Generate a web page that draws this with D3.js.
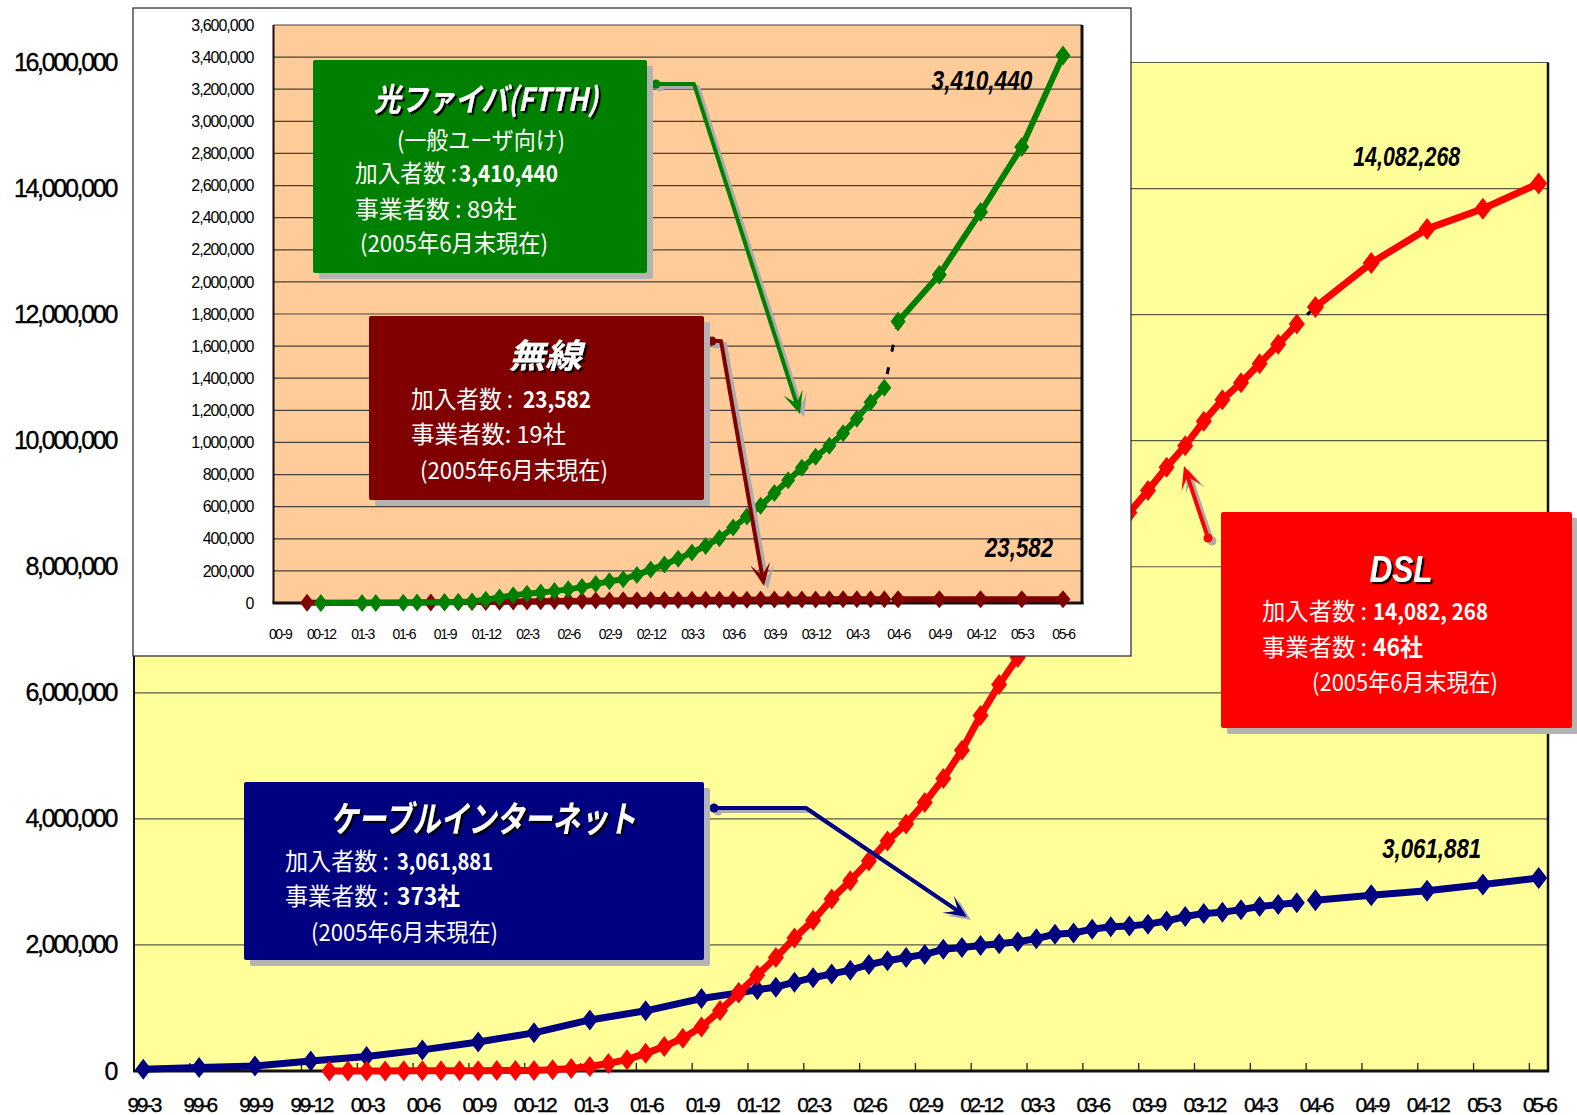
<!DOCTYPE html>
<html>
<head>
<meta charset="utf-8">
<script src="https://cdn.jsdelivr.net/npm/d3@7"></script>
<style>
  body { margin: 0; background: #fff; }
  svg { display: block; }
</style>
</head>
<body>
<svg id="chart" width="1577" height="1115">
  <defs>
    <filter id="titleShadow" x="-10%" y="-20%" width="130%" height="150%">
      <feDropShadow dx="2.2" dy="2.2" stdDeviation="0.3" flood-color="#000" flood-opacity="1"/>
    </filter>
  </defs>
</svg>
<script>
// ---------- data ----------
const mainXLabels = ["99-3","99-6","99-9","99-12","00-3","00-6","00-9","00-12","01-3","01-6","01-9","01-12",
  "02-3","02-6","02-9","02-12","03-3","03-6","03-9","03-12","04-3","04-6","04-9","04-12","05-3","05-6"];
const insetXLabels = ["00-9","00-12","01-3","01-6","01-9","01-12","02-3","02-6","02-9","02-12",
  "03-3","03-6","03-9","03-12","04-3","04-6","04-9","04-12","05-3","05-6"];
const mainYTicks = [0, 2000000, 4000000, 6000000, 8000000, 10000000, 12000000, 14000000, 16000000];
const insetYTicks = [0, 200000, 400000, 600000, 800000, 1000000, 1200000, 1400000, 1600000, 1800000,
  2000000, 2200000, 2400000, 2600000, 2800000, 3000000, 3200000, 3400000, 3600000];

// quarterly survey points from June 2004 on (drawn as a separate segment)
const surveyPeriods = ["04-6","04-9","04-12","05-3","05-6"];

// cable internet
const cablePeriods = ["99-3","99-6","99-9","99-12","00-3","00-6","00-9","00-12","01-3","01-6","01-9",
  "01-11","01-12","02-1","02-2","02-3","02-4","02-5","02-6","02-7","02-8","02-9","02-10","02-11","02-12",
  "03-1","03-2","03-3","03-4","03-5","03-6","03-7","03-8","03-9","03-10","03-11","03-12",
  "04-1","04-2","04-3","04-4","04-5"];
const cableValues = [27000,54000,80000,160000,230000,335000,460000,605000,810000,955000,1150000,
  1240000,1290000,1330000,1410000,1480000,1540000,1600000,1690000,1750000,1800000,1850000,1930000,1960000,1990000,
  2020000,2050000,2100000,2170000,2190000,2250000,2290000,2300000,2330000,2380000,2450000,2500000,
  2520000,2560000,2610000,2640000,2670000];
const cableSurveyValues = [2710000,2790000,2860000,2960000,3061881];

// DSL
const dslPeriods = ["00-1","00-2","00-3","00-4","00-5","00-6","00-7","00-8","00-9","00-10","00-11","00-12",
  "01-1","01-2","01-3","01-4","01-5","01-6","01-7","01-8","01-9","01-10","01-11","01-12",
  "02-1","02-2","02-3","02-4","02-5","02-6","02-7","02-8","02-9","02-10","02-11","02-12",
  "03-1","03-2","03-3","03-4","03-5","03-6","03-7","03-8","03-9","03-10","03-11","03-12",
  "04-1","04-2","04-3","04-4","04-5"];
const dslValues = [200,300,1000,1500,2000,2500,3000,4000,5000,6000,7500,9723,
  20000,40000,70655,120000,180000,280000,390000,520000,700000,960000,1240000,1520000,
  1800000,2110000,2390000,2730000,3020000,3330000,3650000,3920000,4260000,4640000,5090000,5640000,
  6130000,6560000,7020000,7400000,7750000,8080000,8450000,8860000,9210000,9580000,9920000,10310000,
  10650000,10920000,11220000,11530000,11850000];
const dslSurveyValues = [12120000,12820000,13360000,13680000,14082268];

// FTTH
const ftthPeriods = ["00-12","01-3","01-4","01-6","01-7","01-9","01-10","01-11","01-12",
  "02-1","02-2","02-3","02-4","02-5","02-6","02-7","02-8","02-9","02-10","02-11","02-12",
  "03-1","03-2","03-3","03-4","03-5","03-6","03-7","03-8","03-9","03-10","03-11","03-12",
  "04-1","04-2","04-3","04-4","04-5"];
const ftthValues = [100,300,600,1500,2500,4500,7000,9500,20000,
  35000,48000,57000,66000,74000,85000,99000,118000,135000,148000,175000,208000,
  240000,275000,315000,355000,404000,470000,539000,606000,685000,764000,843000,911000,
  979000,1058000,1148000,1250000,1340000];
const ftthSurveyValues = [1753000,2045000,2435000,2840000,3410440];

// fixed wireless
const wirelessPeriods = ["00-11","01-8","01-9","01-10","01-11","01-12",
  "02-1","02-2","02-3","02-4","02-5","02-6","02-7","02-8","02-9","02-10","02-11","02-12",
  "03-1","03-2","03-3","03-4","03-5","03-6","03-7","03-8","03-9","03-10","03-11","03-12",
  "04-1","04-2","04-3","04-4","04-5"];
const wirelessValues = [1000,3000,4000,5000,6000,7000,
  8000,9000,10000,11000,12000,13000,14000,15000,16000,17000,17500,18000,
  18500,19000,19500,20000,20500,21000,21000,21500,22000,22000,22500,22500,
  23000,23000,23000,23500,23500];
const wirelessSurveyValues = [23600,23800,23700,23600,23582];

// ---------- helpers ----------
// "yy-m" -> months since March 1999
function mi(p) {
  const [yy, mm] = p.split("-").map(Number);
  const year = yy >= 90 ? 1900 + yy : 2000 + yy;
  return (year - 1999) * 12 + mm - 3;
}
const zip = (ps, vs) => ps.map((p, i) => ({ p, v: vs[i] }));
const fmt = d3.format(",");
const LATIN = "'Liberation Sans', Arial, sans-serif";
const CJK = "'Noto Sans CJK JP', 'Noto Sans', sans-serif";
const BODY_SIZE = 23.5;

const svg = d3.select("#chart");

function drawSeries(g, pts, xs, ys, color, width, hw, hh) {
  const line = d3.line().x(d => xs(mi(d.p))).y(d => ys(d.v));
  g.append("path").datum(pts).attr("d", line)
    .attr("fill", "none").attr("stroke", color).attr("stroke-width", width)
    .attr("stroke-linejoin", "round");
  g.selectAll(null).data(pts).join("path")
    .attr("d", `M0,${-hh}L${hw},0L0,${hh}L${-hw},0Z`)
    .attr("transform", d => `translate(${xs(mi(d.p))},${ys(d.v)})`)
    .attr("fill", color);
}
function bridge(g, a, b, xs, ys) {
  g.append("line")
    .attr("x1", xs(mi(a.p))).attr("y1", ys(a.v))
    .attr("x2", xs(mi(b.p))).attr("y2", ys(b.v))
    .attr("stroke", "#000").attr("stroke-width", 3).attr("stroke-dasharray", "7,16")
    .attr("stroke-dashoffset", -14);
}

// ---------- main chart ----------
const M = { left: 134, right: 1548, top: 62.5, bottom: 1071 };
const x = d3.scaleLinear().domain([-0.5, 75.5]).range([M.left, M.right]);
const y = d3.scaleLinear().domain([0, 16000000]).range([M.bottom, M.top]);

const main = svg.append("g");
main.append("rect").attr("x", M.left).attr("y", M.top)
  .attr("width", M.right - M.left).attr("height", M.bottom - M.top).attr("fill", "#FFFF99");
main.selectAll(null).data(mainYTicks.slice(1)).join("line")
  .attr("x1", M.left).attr("x2", M.right).attr("y1", d => y(d)).attr("y2", d => y(d))
  .attr("stroke", "#5a5a48").attr("stroke-width", 1.2);
main.selectAll(null).data(mainXLabels).join("line")
  .attr("x1", d => x(mi(d) - 0.5)).attr("x2", d => x(mi(d) - 0.5))
  .attr("y1", M.bottom).attr("y2", M.bottom - 8).attr("stroke", "#222").attr("stroke-width", 1.3);
main.append("line").attr("x1", M.left).attr("x2", M.left).attr("y1", M.top).attr("y2", M.bottom)
  .attr("stroke", "#111").attr("stroke-width", 2);
main.append("line").attr("x1", M.right).attr("x2", M.right).attr("y1", M.top).attr("y2", M.bottom + 1)
  .attr("stroke", "#111").attr("stroke-width", 2.5);
main.append("line").attr("x1", M.left - 1).attr("x2", M.right + 1).attr("y1", M.bottom).attr("y2", M.bottom)
  .attr("stroke", "#111").attr("stroke-width", 3);

// axes
const yAxis = main.append("g").attr("transform", `translate(${M.left},0)`)
  .call(d3.axisLeft(y).tickValues(mainYTicks).tickFormat(fmt).tickSize(0).tickPadding(18));
yAxis.select(".domain").remove();
yAxis.attr("font-size", 25).attr("font-family", LATIN);
yAxis.selectAll("text").attr("fill", "#000").style("letter-spacing", "-2.3px")
  .attr("stroke", "#000").attr("stroke-width", 0.35);

const xAxis = main.append("g").attr("transform", `translate(0,${M.bottom})`)
  .call(d3.axisBottom(x).tickValues(mainXLabels.map(mi)).tickFormat((d, i) => mainXLabels[i])
    .tickSize(0).tickPadding(26));
xAxis.select(".domain").remove();
xAxis.attr("font-size", 21).attr("font-family", LATIN);
xAxis.selectAll("text").attr("fill", "#000").style("letter-spacing", "-2.4px")
  .attr("stroke", "#000").attr("stroke-width", 0.35);

// series
const cablePts = zip(cablePeriods, cableValues);
const cableSurvey = zip(surveyPeriods, cableSurveyValues);
const dslPts = zip(dslPeriods, dslValues);
const dslSurvey = zip(surveyPeriods, dslSurveyValues);

const lines = main.append("g");
bridge(lines, cablePts[cablePts.length - 1], cableSurvey[0], x, y);
drawSeries(lines, cablePts, x, y, "#000080", 7, 8, 10.5);
drawSeries(lines, cableSurvey, x, y, "#000080", 7, 8.5, 11);
bridge(lines, dslPts[dslPts.length - 1], dslSurvey[0], x, y);
drawSeries(lines, dslPts, x, y, "#FF0000", 7, 8, 10.5);
drawSeries(lines, dslSurvey, x, y, "#FF0000", 7, 8.5, 11);

function valueLabel(g, px, py, text, len, size) {
  g.append("text").attr("x", px).attr("y", py).attr("text-anchor", "middle")
    .attr("font-family", LATIN).attr("font-weight", "bold").attr("font-style", "italic")
    .attr("font-size", size).attr("fill", "#000")
    .attr("textLength", len).attr("lengthAdjust", "spacingAndGlyphs").text(text);
}
const dslLast = dslSurvey[dslSurvey.length - 1];
const cableLast = cableSurvey[cableSurvey.length - 1];
valueLabel(main, x(mi(dslLast.p)) - 132, y(dslLast.v) - 17, fmt(dslLast.v), 107, 28);
valueLabel(main, x(mi(cableLast.p)) - 107, y(cableLast.v) - 20, fmt(cableLast.v), 99, 28);

// ---------- callouts ----------
function connector(g, pts, color) {
  const tip = pts[pts.length - 1], prev = pts[pts.length - 2];
  const ang = Math.atan2(tip[1] - prev[1], tip[0] - prev[0]);
  const L = 25, spread = 0.42, notch = 11;
  const head = (ox, oy) => {
    const tx = tip[0] + ox, ty = tip[1] + oy;
    const p1 = [tx - L * Math.cos(ang - spread), ty - L * Math.sin(ang - spread)];
    const p2 = [tx - notch * Math.cos(ang), ty - notch * Math.sin(ang)];
    const p3 = [tx - L * Math.cos(ang + spread), ty - L * Math.sin(ang + spread)];
    return `M${tx},${ty}L${p1}L${p2}L${p3}Z`;
  };
  const shaft = (ox, oy) => {
    const end = [tip[0] - notch * Math.cos(ang), tip[1] - notch * Math.sin(ang)];
    return d3.line()(pts.slice(0, -1).map(p => [p[0] + ox, p[1] + oy]).concat([[end[0] + ox, end[1] + oy]]));
  };
  const sh = [4, 3];
  g.append("path").attr("d", shaft(...sh)).attr("fill", "none").attr("stroke", "#ababab").attr("stroke-width", 4);
  g.append("path").attr("d", head(...sh)).attr("fill", "#ababab");
  g.append("circle").attr("cx", pts[0][0] + sh[0]).attr("cy", pts[0][1] + sh[1]).attr("r", 4.5).attr("fill", "#ababab");
  g.append("path").attr("d", shaft(0, 0)).attr("fill", "none").attr("stroke", color).attr("stroke-width", 4)
    .attr("stroke-linejoin", "round");
  g.append("path").attr("d", head(0, 0)).attr("fill", color);
  g.append("circle").attr("cx", pts[0][0]).attr("cy", pts[0][1]).attr("r", 4.5).attr("fill", color);
}

// each row is a list of runs: [text, x, width, bold]
function callout(g, box, color, title, rows) {
  g.append("rect").attr("x", box.x + 6).attr("y", box.y + 6).attr("width", box.w).attr("height", box.h)
    .attr("rx", 2).attr("fill", "#b3b3b3");
  g.append("rect").attr("x", box.x).attr("y", box.y).attr("width", box.w).attr("height", box.h)
    .attr("rx", 2).attr("fill", color);
  g.append("text").attr("x", title.x).attr("y", title.y).attr("text-anchor", "middle")
    .attr("font-family", title.latin ? LATIN : CJK).attr("font-weight", "bold").attr("font-style", "italic")
    .attr("font-size", title.size).attr("fill", "#fff").attr("filter", "url(#titleShadow)")
    .attr("textLength", title.len).attr("lengthAdjust", "spacingAndGlyphs").text(title.text);
  rows.forEach(r => {
    r.runs.forEach(([s, rx, len, bold]) => {
      g.append("text").attr("x", rx).attr("y", r.y).attr("font-family", CJK)
        .attr("font-size", BODY_SIZE).attr("fill", "#fff").attr("font-weight", bold ? "bold" : "normal")
        .attr("textLength", len).attr("lengthAdjust", "spacingAndGlyphs").text(s);
    });
  });
}

const notes = svg.append("g");
connector(notes, [[714, 808], [806, 808], [967, 917]], "#000080");
callout(notes, { x: 244, y: 782, w: 460, h: 178 }, "#000080",
  { text: "ケーブルインターネット", x: 483, y: 832, size: 36, len: 306 },
  [ { y: 870, runs: [["加入者数 :", 285, 104, false], ["3,061,881", 397, 96, true]] },
    { y: 905, runs: [["事業者数 :", 285, 104, false], ["373社", 397, 63, true]] },
    { y: 941, runs: [["(2005年6月末現在)", 311, 187, false]] } ]);

connector(notes, [[1208, 538], [1184, 466]], "#FF0000");
callout(notes, { x: 1221, y: 512, w: 351, h: 216 }, "#FF0000",
  { text: "DSL", x: 1401, y: 582, size: 36, len: 63, latin: true },
  [ { y: 620, runs: [["加入者数 :", 1262, 105, false], ["14,082, 268", 1373, 115, true]] },
    { y: 656, runs: [["事業者数 :", 1262, 105, false], ["46社", 1373, 50, true]] },
    { y: 691, runs: [["(2005年6月末現在)", 1312, 186, false]] } ]);

// ---------- inset chart ----------
const I = { left: 273.5, right: 1082, top: 25, bottom: 603 };
const ix = d3.scaleLinear().domain([mi("00-9"), mi("05-6")]).range([279.6, 1063]);
const iy = d3.scaleLinear().domain([0, 3600000]).range([I.bottom, I.top]);

const inset = svg.append("g");
inset.append("rect").attr("x", 133).attr("y", 8).attr("width", 998).attr("height", 648)
  .attr("fill", "#fff").attr("stroke", "#222").attr("stroke-width", 1.2);
inset.append("rect").attr("x", I.left).attr("y", I.top)
  .attr("width", I.right - I.left).attr("height", I.bottom - I.top).attr("fill", "#FFCC99");
inset.selectAll(null).data(insetYTicks.slice(1)).join("line")
  .attr("x1", I.left).attr("x2", I.right).attr("y1", d => iy(d)).attr("y2", d => iy(d))
  .attr("stroke", "#4a4038").attr("stroke-width", 1.2);
inset.append("line").attr("x1", I.left).attr("x2", I.left).attr("y1", I.top).attr("y2", I.bottom)
  .attr("stroke", "#111").attr("stroke-width", 2);
inset.append("line").attr("x1", I.right).attr("x2", I.right).attr("y1", I.top).attr("y2", I.bottom + 1)
  .attr("stroke", "#111").attr("stroke-width", 3);
inset.append("line").attr("x1", I.left - 1).attr("x2", I.right + 1.5).attr("y1", I.bottom).attr("y2", I.bottom)
  .attr("stroke", "#111").attr("stroke-width", 3);

const iyAxis = inset.append("g").attr("transform", `translate(${I.left},0)`)
  .call(d3.axisLeft(iy).tickValues(insetYTicks).tickFormat(fmt).tickSize(0).tickPadding(20));
iyAxis.select(".domain").remove();
iyAxis.attr("font-size", 16).attr("font-family", LATIN);
iyAxis.selectAll("text").attr("fill", "#000").style("letter-spacing", "-1px");

const ixAxis = inset.append("g").attr("transform", `translate(0,${I.bottom})`)
  .call(d3.axisBottom(ix).tickValues(insetXLabels.map(mi)).tickFormat((d, i) => insetXLabels[i])
    .tickSize(0).tickPadding(26));
ixAxis.select(".domain").remove();
ixAxis.attr("font-size", 14).attr("font-family", LATIN);
ixAxis.selectAll("text").attr("fill", "#000").style("letter-spacing", "-1.4px");

const wirelessPts = zip(wirelessPeriods, wirelessValues);
const wirelessSurvey = zip(surveyPeriods, wirelessSurveyValues);
const ftthPts = zip(ftthPeriods, ftthValues);
const ftthSurvey = zip(surveyPeriods, ftthSurveyValues);

const ilines = inset.append("g");
drawSeries(ilines, wirelessPts, ix, iy, "#800000", 6, 7, 9);
drawSeries(ilines, wirelessSurvey, ix, iy, "#800000", 6, 7.5, 9);
bridge(ilines, ftthPts[ftthPts.length - 1], ftthSurvey[0], ix, iy);
drawSeries(ilines, ftthPts, ix, iy, "#008000", 6, 7, 9);
drawSeries(ilines, ftthSurvey, ix, iy, "#008000", 6, 7.5, 10);

const ftthLast = ftthSurvey[ftthSurvey.length - 1];
const wirelessLast = wirelessSurvey[wirelessSurvey.length - 1];
valueLabel(inset, ix(mi(ftthLast.p)) - 81, iy(ftthLast.v) + 35, fmt(ftthLast.v), 101, 27);
valueLabel(inset, ix(mi(wirelessLast.p)) - 44, iy(wirelessLast.v) - 42, fmt(wirelessLast.v), 68, 27);

const inotes = svg.append("g");
connector(inotes, [[656, 84], [694, 84], [800, 414]], "#008000");
callout(inotes, { x: 313, y: 60, w: 334, h: 213 }, "#008000",
  { text: "光ファイバ(FTTH)", x: 486, y: 111, size: 32, len: 224 },
  [ { y: 149, runs: [["(一般ユーザ向け)", 397, 168, false]] },
    { y: 182, runs: [["加入者数 :", 355, 102, false], ["3,410,440", 459, 99, true]] },
    { y: 218, runs: [["事業者数 : 89社", 355, 162, false]] },
    { y: 252, runs: [["(2005年6月末現在)", 360, 188, false]] } ]);

connector(inotes, [[712, 341], [721, 341], [764, 586]], "#800000");
callout(inotes, { x: 369, y: 316, w: 335, h: 184 }, "#800000",
  { text: "無線", x: 545, y: 368, size: 34, len: 73 },
  [ { y: 408, runs: [["加入者数 :", 411, 102, false], ["23,582", 523, 68, true]] },
    { y: 443, runs: [["事業者数: 19社", 411, 155, false]] },
    { y: 479, runs: [["(2005年6月末現在)", 420, 188, false]] } ]);
</script>
</body>
</html>
